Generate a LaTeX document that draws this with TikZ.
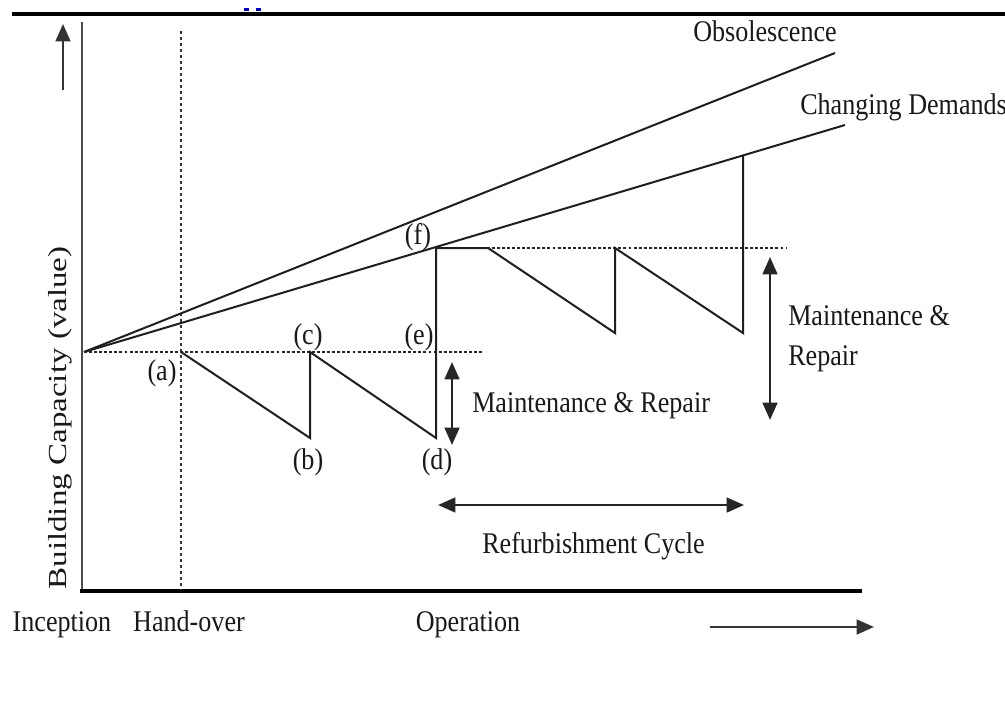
\documentclass[tikz,border=0pt]{standalone}
\usepackage{fontspec}
\usepackage{graphicx}
\setmainfont{Liberation Serif}
\usetikzlibrary{arrows.meta}
\newcommand{\cnd}[1]{\scalebox{0.87}[1]{#1}}
\tikzset{
  ln/.style={line width=1.5pt, draw=black!88},
  dotln/.style={line width=1.6pt, draw=black!85, dash pattern=on 2.2pt off 1.6pt},
  axis/.style={line width=1.4pt, draw=black!70},
  tip/.style={-{Triangle[length=13pt,width=11pt]}},
  dtip/.style={{Triangle[length=13pt,width=11pt]}-{Triangle[length=13pt,width=11pt]}},
  lbl/.style={font=\fontsize{22.5}{27}\selectfont, inner sep=0pt, text=black!90},
}
\begin{document}
\begin{tikzpicture}[x=0.75pt,y=-0.75pt]
\useasboundingbox (0,0) rectangle (1005,720);
\fill[white] (0,0) rectangle (1005,720);
% top rule and artifact
\draw[line width=3pt, black] (12,14) coordinate (t1) -- (1005,14) coordinate (t2);
\fill[blue!70!black] (244,8) rectangle (249,11);
\fill[blue!70!black] (256,8) rectangle (261,11);
% axes
\coordinate (yb) at (82,592);
\coordinate (yt) at (82,22);
\coordinate (xe) at (862,591);
\draw[axis] (yb) -- (yt);
\draw[line width=3pt, black] (80,591) -- (xe);
\coordinate (ua1) at (63,90);
\coordinate (ua2) at (63,24);
\draw[line width=1.8pt, black!80, tip] (ua1) -- (ua2);
\coordinate (ra1) at (710,627);
\coordinate (ra2) at (874,627);
\draw[line width=1.8pt, black!80, tip] (ra1) -- (ra2);
% hand-over dashed
\coordinate (h1) at (181,31);
\coordinate (h2) at (181,590);
\draw[line width=1.1pt, black!80, dash pattern=on 2.5pt off 2pt] (h1) -- (h2);
% trend lines
\coordinate (O) at (84,352);
\coordinate (Obs) at (835,53);
\coordinate (CD) at (845,125);
\draw[ln] (O) -- (Obs);
\draw[ln] (O) -- (CD);
% dotted levels
\coordinate (L1) at (483,352);
\coordinate (F) at (436,248);
\coordinate (L2) at (787,248);
\draw[dotln] (O) -- (L1);
\draw[dotln] (F) -- (L2);
% sawtooth
\coordinate (A) at (181,352);
\coordinate (B) at (310,438);
\coordinate (C) at (310,352);
\coordinate (D) at (436,438);
\coordinate (G) at (488,248);
\coordinate (H) at (615,333);
\coordinate (I) at (615,248);
\coordinate (J) at (743,333);
\coordinate (K) at (743,155);
\draw[ln, line join=miter] (A) -- (B) -- (C) -- (D) -- (F) -- (G) -- (H) -- (I) -- (J) -- (K);
% double arrows
\coordinate (m1) at (452,362);
\coordinate (m2) at (452,445);
\draw[line width=1.8pt, black!85, dtip] (m1) -- (m2);
\coordinate (n1) at (770,257);
\coordinate (n2) at (770,420);
\draw[line width=1.8pt, black!85, dtip] (n1) -- (n2);
\coordinate (r1) at (438,505);
\coordinate (r2) at (744,505);
\draw[line width=1.8pt, black!85, dtip] (r1) -- (r2);
% labels
\node[lbl, anchor=base] (obs) at (765,42) {\cnd{Obsolescence}};
\node[lbl, anchor=base west] (cdl) at (800,115) {\cnd{Changing Demands}};
\node[lbl, anchor=base west] (mr1) at (472,412) {\cnd{Maintenance \& Repair}};
\node[lbl, anchor=base west] (mr2) at (788,325) {\cnd{Maintenance \&}};
\node[lbl, anchor=base west] (mr3) at (788,365) {\cnd{Repair}};
\node[lbl, anchor=base west] (rc) at (482,553) {\cnd{Refurbishment Cycle}};
\node[lbl] (la) at (162,373) {\cnd{(a)}};
\node[lbl] (lb) at (308,462) {\cnd{(b)}};
\node[lbl] (lc) at (308,337) {\cnd{(c)}};
\node[lbl] (ld) at (437,462) {\cnd{(d)}};
\node[lbl] (le) at (419,337) {\cnd{(e)}};
\node[lbl] (lf) at (418,237) {\cnd{(f)}};
\node[lbl, anchor=base] (inc) at (62,631) {\cnd{Inception}};
\node[lbl, anchor=base] (hand) at (189,631) {\cnd{Hand-over}};
\node[lbl, anchor=base] (op) at (468,631) {\cnd{Operation}};
\node[lbl, font=\fontsize{19.5}{22}\selectfont, rotate=90] (yl) at (60,418) {\scalebox{1.27}[1]{Building Capacity (value)}};
\end{tikzpicture}
\end{document}
